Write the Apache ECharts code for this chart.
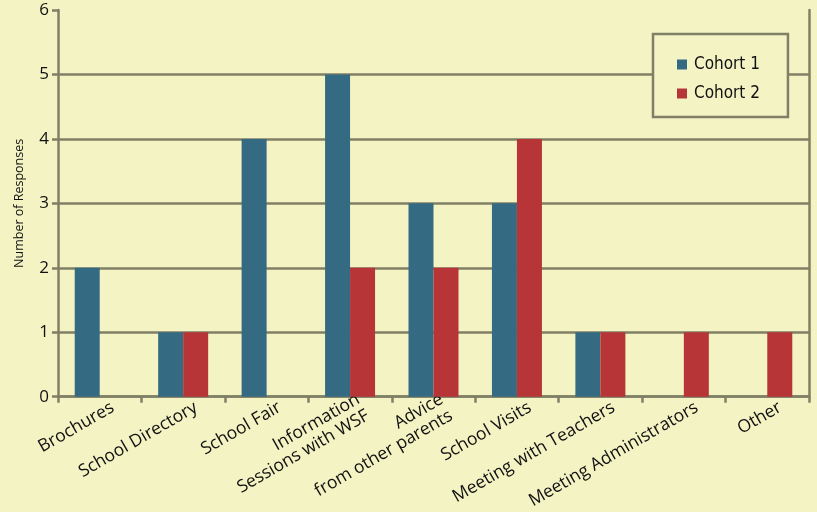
<!DOCTYPE html>
<html>
<head>
<meta charset="utf-8">
<style>html,body{margin:0;padding:0;background:#F3F3C4;}#c{width:817px;height:512px;}</style>
<script src="https://cdn.jsdelivr.net/npm/echarts@6/dist/echarts.min.js"></script>
</head>
<body>
<div id="c"></div>
<script>
var categories = ['Brochures', 'School Directory', 'School Fair', 'Information\nSessions with WSF', 'Advice\nfrom other parents', 'School Visits', 'Meeting with Teachers', 'Meeting Administrators', 'Other'];
var cohort1 = [2, 1, 4, 5, 3, 3, 1, 0, 0];
var cohort2 = [0, 1, 0, 2, 2, 4, 1, 1, 1];
var yTicks = [0, 1, 2, 3, 4, 5, 6];

var axisCol = '#808066';
var clear = 'rgba(0,0,0,0)';
var chart = echarts.init(document.getElementById('c'), null, {renderer: 'canvas'});
chart.setOption({
  backgroundColor: '#F3F3C4',
  animation: false,
  textStyle: {fontFamily: 'Open Sans'},
  legend: {
    orient: 'vertical',
    left: 653, top: 34,
    padding: [22, 28, 15, 24],
    itemGap: 12,
    itemWidth: 10, itemHeight: 10,
    icon: 'rect',
    borderColor: axisCol, borderWidth: 2.5,
    backgroundColor: '#F3F3C4',
    textStyle: {fontFamily: 'Liberation Sans Narrow, DejaVu Sans Condensed, sans-serif', fontSize: 17, color: '#111', padding: [0,0,0,2]},
    data: ['Cohort 1', 'Cohort 2']
  },
  grid: {left: 58, right: 8, top: 10, bottom: 114, containLabel: false},
  xAxis: {
    type: 'category',
    data: categories,
    axisLine: {lineStyle: {color: axisCol, width: 2.5}},
    axisTick: {show: true, length: 6, lineStyle: {color: axisCol, width: 2.5}},
    axisLabel: {rotate: 30, interval: 0, fontSize: 17.5, color: '#111', margin: 17, lineHeight: 19, align: 'right', padding: [0, -15, 0, 0]}
  },
  yAxis: [{
    type: 'value', min: 0, max: 6, interval: 1,
    name: 'Number of Responses', nameLocation: 'middle', nameGap: 32, nameRotate: 90,
    nameTextStyle: {fontSize: 12.5, color: '#111'},
    axisLine: {show: true, lineStyle: {color: axisCol, width: 2.5}},
    axisTick: {show: true, length: 6, lineStyle: {color: axisCol, width: 2.5}},
    axisLabel: {fontSize: 17, color: '#111', margin: 9,
      formatter: function(v){ return yTicks.indexOf(v) >= 0 ? String(v) : ''; }},
    splitLine: {show: true, lineStyle: {color: [axisCol, axisCol, axisCol, axisCol, axisCol, axisCol, clear], width: 2.5}}
  }, {
    type: 'value', min: 0, max: 6, interval: 1, position: 'right',
    axisLine: {show: true, lineStyle: {color: axisCol, width: 2.5}},
    axisTick: {show: false}, axisLabel: {show: false}, splitLine: {show: false}
  }],
  series: [
    {name: 'Cohort 1', type: 'bar', data: cohort1, barWidth: 25, barGap: '0%', itemStyle: {color: '#346B82'}},
    {name: 'Cohort 2', type: 'bar', data: cohort2, barWidth: 25, barGap: '0%', itemStyle: {color: '#B73537'}}
  ]
});
</script>
</body>
</html>
